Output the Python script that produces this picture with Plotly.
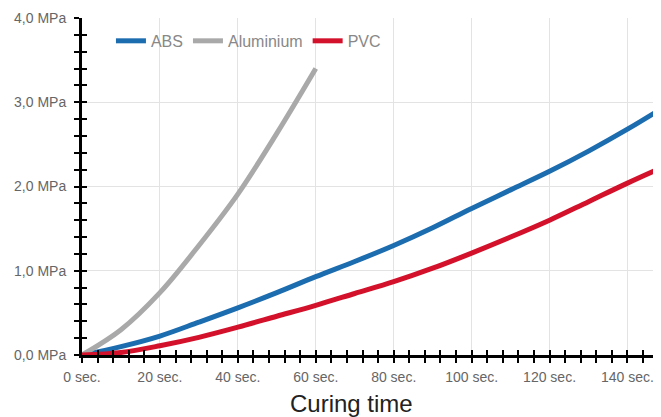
import plotly.graph_objects as go

# Data
time_abs = [0, 10, 20, 30, 40, 50, 60, 70, 80, 90, 100, 110, 120, 130, 140, 148.6]
abs_mpa = [0, 0.10, 0.225, 0.39, 0.56, 0.74, 0.93, 1.11, 1.30, 1.51, 1.74, 1.96, 2.18, 2.42, 2.68, 2.92]

time_alu = [0, 10, 20, 30, 40, 50, 60]
alu_mpa = [0, 0.30, 0.74, 1.30, 1.91, 2.63, 3.40]

time_pvc = [0, 10, 20, 30, 40, 50, 60, 70, 80, 90, 100, 110, 120, 130, 140, 148.6]
pvc_mpa = [0, 0.03, 0.11, 0.21, 0.33, 0.46, 0.59, 0.73, 0.87, 1.03, 1.21, 1.40, 1.60, 1.82, 2.04, 2.22]

x_tickvals = [0, 20, 40, 60, 80, 100, 120, 140]
x_ticktext = ["0 sec.", "20 sec.", "40 sec.", "60 sec.", "80 sec.", "100 sec.", "120 sec.", "140 sec."]
y_tickvals = [0, 1, 2, 3, 4]
y_ticktext = ["0,0 MPa", "1,0 MPa", "2,0 MPa", "3,0 MPa", "4,0 MPa"]
x_title = "Curing time"

X_RANGE = [0, 148.6]
Y_RANGE = [0, 4]

FONT = "Liberation Sans, Arial, sans-serif"
LW = 5

fig = go.Figure()
fig.add_trace(go.Scatter(x=time_abs, y=abs_mpa, name="ABS", mode="lines",
                         line=dict(color="#1c6cb0", width=LW, shape="spline")))
fig.add_trace(go.Scatter(x=time_alu, y=alu_mpa, name="Aluminium", mode="lines",
                         line=dict(color="#a9a9a9", width=LW, shape="spline")))
fig.add_trace(go.Scatter(x=time_pvc, y=pvc_mpa, name="PVC", mode="lines",
                         line=dict(color="#d3112b", width=LW, shape="spline")))
# helper trace for the overlay axes (inside half of crossing ticks)
fig.add_trace(go.Scatter(x=[None], y=[None], xaxis="x2", yaxis="y2",
                         showlegend=False, hoverinfo="skip"))

tick_common = dict(tickcolor="black", tickwidth=2, ticklen=5)

fig.update_layout(
    width=653, height=409,
    margin=dict(l=74, r=0, t=10, b=62, autoexpand=False),
    paper_bgcolor="white", plot_bgcolor="white",
    font=dict(family=FONT, color="#666666", size=14),
    showlegend=True,
    legend=dict(orientation="h", x=0.05, y=0.932, xanchor="left", yanchor="middle",
                font=dict(size=16, color="#888888"), bgcolor="rgba(0,0,0,0)",
                itemwidth=30, tracegroupgap=0),
    xaxis=dict(range=X_RANGE, tickvals=x_tickvals, ticktext=x_ticktext,
               ticks="outside", **tick_common,
               minor=dict(dtick=4, ticks="outside", ticklen=5, tickwidth=2,
                          tickcolor="black", showgrid=False),
               showgrid=True, gridcolor="#e3e3e3", gridwidth=1,
               showline=True, linecolor="black", linewidth=3,
               zeroline=False, ticklabelstandoff=2, automargin=False,
               tickfont=dict(size=14, color="#666666")),
    yaxis=dict(range=Y_RANGE, tickvals=y_tickvals, ticktext=y_ticktext,
               ticks="outside", **tick_common,
               minor=dict(dtick=0.2, ticks="outside", ticklen=5, tickwidth=2,
                          tickcolor="black", showgrid=False),
               showgrid=True, gridcolor="#e3e3e3", gridwidth=1,
               showline=True, linecolor="black", linewidth=3,
               zeroline=False, ticklabelstandoff=5, automargin=False,
               tickfont=dict(size=14, color="#666666")),
    xaxis2=dict(range=X_RANGE, overlaying="x", anchor="y2", side="bottom",
                tickvals=x_tickvals, showticklabels=False,
                ticks="inside", **tick_common,
                minor=dict(dtick=4, ticks="inside", ticklen=5, tickwidth=2,
                           tickcolor="black", showgrid=False),
                showgrid=False, showline=False, zeroline=False, automargin=False),
    yaxis2=dict(range=Y_RANGE, overlaying="y", anchor="x2", side="left",
                tickvals=y_tickvals, showticklabels=False,
                ticks="inside", **tick_common,
                minor=dict(dtick=0.2, ticks="inside", ticklen=5, tickwidth=2,
                           tickcolor="black", showgrid=False),
                showgrid=False, showline=False, zeroline=False, automargin=False),
    annotations=[dict(text=x_title, xref="paper", yref="paper",
                      x=0.4646, y=-0.1454, xanchor="center", yanchor="middle",
                      showarrow=False, font=dict(size=24, color="#222222", family=FONT))],
)

fig.write_html("out.html")
